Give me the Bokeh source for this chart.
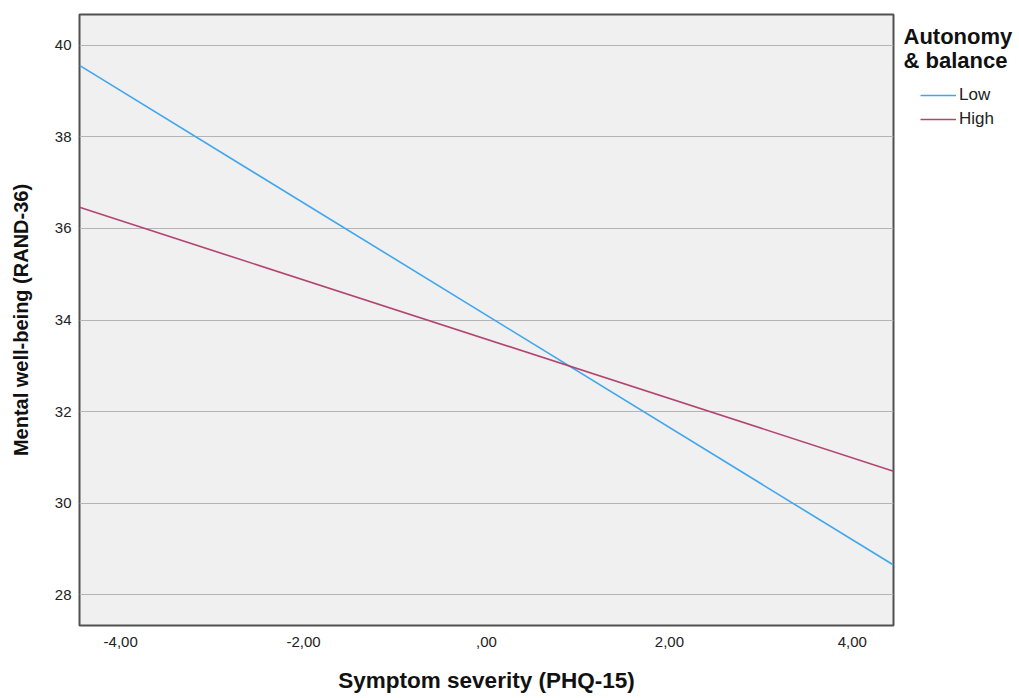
from bokeh.plotting import figure
from bokeh.layouts import row
from bokeh.models import Range1d, FixedTicker, Legend, LegendItem, Label
from bokeh.embed import file_html
from bokeh.resources import INLINE

# Data
x_vals = [-4.45, 4.45]
low_vals = [39.56, 28.65]
high_vals = [36.46, 30.70]
series_names = ["Low", "High"]
series_colors = ["#3fa6ee", "#b2456e"]
legend_title_lines = ["Autonomy", "& balance"]
x_ticks = [-4, -2, 0, 2, 4]
x_tick_labels = ["-4,00", "-2,00", ",00", "2,00", "4,00"]
y_ticks = [28, 30, 32, 34, 36, 38, 40]

FONT = "Liberation Sans"
H = 695
X_RANGE = (-4.45, 4.45)
Y_RANGE = (27.33, 40.67)

# ---- main chart ----
p = figure(width=895, height=H, output_backend="svg", toolbar_location=None,
           x_range=Range1d(*X_RANGE), y_range=Range1d(*Y_RANGE),
           min_border_left=79, min_border_right=2, min_border_top=14, min_border_bottom=69)

p.background_fill_color = "#f0f0f0"
p.border_fill_color = "white"
p.outline_line_color = "#505050"
p.outline_line_width = 2

p.line(x_vals, low_vals, line_color=series_colors[0], line_width=1.6)
p.line(x_vals, high_vals, line_color=series_colors[1], line_width=1.6)

p.xgrid.visible = False
p.ygrid.grid_line_color = "#b4b4b4"
p.ygrid.grid_line_width = 1

p.xaxis.ticker = FixedTicker(ticks=x_ticks)
p.xaxis.major_label_overrides = {t: l for t, l in zip(x_ticks, x_tick_labels)}
p.yaxis.ticker = FixedTicker(ticks=y_ticks)

for ax in (p.xaxis[0], p.yaxis[0]):
    ax.axis_line_color = None
    ax.major_tick_line_color = None
    ax.minor_tick_line_color = None
    ax.major_tick_out = 0
    ax.major_tick_in = 0
    ax.major_label_text_font = FONT
    ax.major_label_text_font_size = "15px"
    ax.major_label_text_color = "#222222"
    ax.axis_label_text_font = FONT
    ax.axis_label_text_font_style = "bold"
    ax.axis_label_text_color = "#111111"

p.xaxis.axis_label = "Symptom severity (PHQ-15)"
p.xaxis.axis_label_text_font_size = "22.5px"
p.xaxis.major_label_standoff = 11
p.xaxis.axis_label_standoff = 18

p.yaxis.axis_label = "Mental well-being (RAND-36)"
p.yaxis.axis_label_text_font_size = "20px"
p.yaxis.major_label_standoff = 8
p.yaxis.axis_label_standoff = 20

# ---- legend panel (right of the chart) ----
q = figure(width=120, height=H, output_backend="svg", toolbar_location=None,
           x_range=Range1d(*X_RANGE), y_range=Range1d(*Y_RANGE),
           x_axis_type=None, y_axis_type=None, min_border=0)
q.outline_line_color = None
q.background_fill_color = "white"
q.border_fill_color = "white"
q.xgrid.visible = False
q.ygrid.visible = False

lg_low = q.line(x_vals, low_vals, line_color=series_colors[0], line_width=1.6, visible=False)
lg_high = q.line(x_vals, high_vals, line_color=series_colors[1], line_width=1.6, visible=False)

FB = 628  # frame bottom of the legend panel (aligned by the row layout)

legend = Legend(items=[LegendItem(label=series_names[0], renderers=[lg_low]),
                       LegendItem(label=series_names[1], renderers=[lg_high])],
                location=(25, FB - 132),
                margin=0, padding=4, spacing=4,
                glyph_width=36, glyph_height=20, label_height=20, label_standoff=3,
                border_line_color=None, background_fill_alpha=0)
legend.label_text_font = FONT
legend.label_text_font_size = "17px"
legend.label_text_color = "#222222"
q.add_layout(legend, "center")

for i, txt in enumerate(legend_title_lines):
    q.add_layout(Label(x=8, y=FB - 39 - 24 * i, x_units="screen", y_units="screen",
                       text=txt, text_font=FONT, text_font_style="bold",
                       text_font_size="22px", text_color="#111111",
                       text_baseline="middle", text_align="left"))

layout = row(p, q)
open("out.html", "w").write(file_html(layout, INLINE))
